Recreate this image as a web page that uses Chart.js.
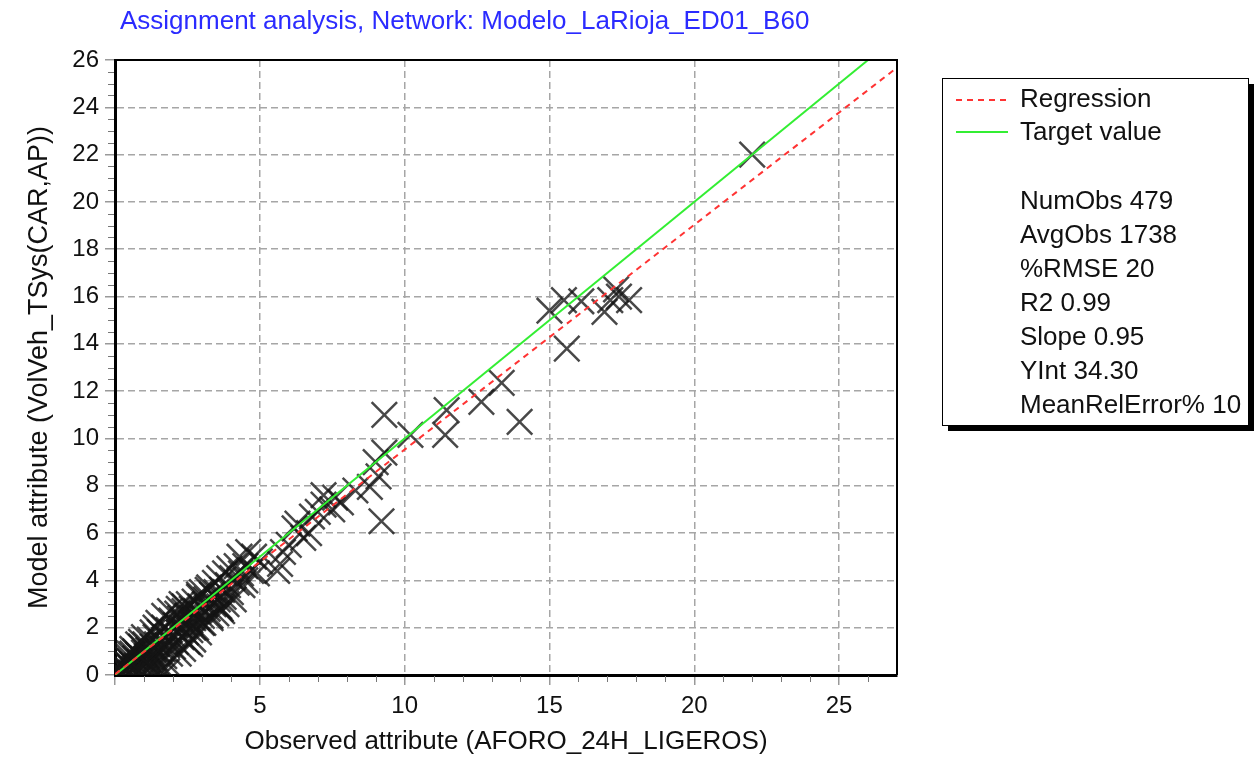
<!DOCTYPE html>
<html>
<head>
<meta charset="utf-8">
<script src="https://cdn.jsdelivr.net/npm/chart.js@4"></script>
<style>
  html, body { margin: 0; padding: 0; background: #fff; }
  #wrap { width: 1255px; height: 759px; }
</style>
</head>
<body>
<div id="wrap"><canvas id="chartAssign"></canvas></div>
<script>

const chartTitle = 'Assignment analysis, Network: Modelo_LaRioja_ED01_B60';
const xTitle = 'Observed attribute (AFORO_24H_LIGEROS)';
const yTitle = 'Model attribute (VolVeh_TSys(CAR,AP))';

// observed (x) / model (y) pairs, thousands
const obsX = [
  0.1,0.15,0.2,0.25,0.3,0.3,0.35,0.4,0.4,0.45,0.5,0.5,0.55,0.6,0.6,0.65,0.7,0.7,0.75,0.8,
  0.8,0.85,0.9,0.9,0.95,1.0,1.0,1.05,1.1,1.1,1.15,1.2,1.2,1.25,1.3,1.3,1.35,1.4,1.4,1.45,
  1.5,1.5,1.55,1.6,1.6,1.65,1.7,1.7,1.75,1.8,1.8,1.85,1.9,1.9,1.95,2.0,2.0,1.8,1.6,2.1,
  2.1,2.15,2.2,2.2,2.25,2.3,2.3,2.35,2.4,2.4,2.45,2.5,2.5,2.55,2.6,2.6,2.65,2.7,2.7,2.75,
  2.8,2.8,2.85,2.9,2.9,2.95,3.0,3.0,3.05,3.1,3.15,3.2,3.25,3.3,3.35,3.4,3.45,3.5,3.5,3.55,
  3.6,3.65,3.7,3.7,3.75,3.8,3.85,3.9,3.95,4.0,4.05,4.1,4.2,4.2,4.3,4.35,4.4,4.5,4.6,4.7,
  4.8,4.9,5.0,4.5,2.6,2.7,3.0,3.3,3.6,0.2,0.5,0.9,1.3,0.3,0.7,1.1,2.4,2.9,3.2,1.2,
  0.6,1.0,1.4,1.7,2.2,0.4,0.8,1.5,1.9,2.3,
  5.7,5.6,6.0,5.8,6.2,6.5,6.3,6.8,6.7,7.0,7.2,7.5,7.6,7.2,7.8,8.3,8.8,9.0,9.1,9.2,
  9.3,9.3,10.2,11.45,11.4,12.65,13.35,13.97,15.0,15.5,15.6,16.1,16.9,17.1,17.4,17.75,17.3,22.0
];
const obsY = [
  0.2,0.05,0.4,0.1,0.3,0.6,0.15,0.5,0.2,0.8,0.35,0.6,0.1,0.9,0.45,0.25,0.7,1.0,0.4,0.15,
  0.85,0.55,1.2,0.3,0.7,0.95,0.5,1.3,0.2,0.8,1.05,0.6,1.5,0.35,1.2,0.9,0.1,1.6,0.7,1.3,
  1.0,0.45,1.8,1.4,0.2,1.1,0.8,2.0,1.6,1.25,0.5,1.9,1.5,0.9,2.3,1.7,1.2,0.15,0.1,2.1,
  1.4,2.6,1.8,0.9,2.4,1.6,2.0,1.1,2.7,2.2,1.8,2.5,1.4,3.0,2.2,1.9,2.8,2.4,1.5,3.1,
  2.0,2.7,2.4,3.3,1.8,2.9,2.5,3.5,2.2,3.0,3.2,2.8,3.7,2.4,3.4,3.0,3.9,3.5,2.6,3.2,
  4.1,2.8,3.6,2.7,3.3,4.3,3.0,3.8,4.5,3.5,4.1,3.2,4.6,3.9,5.0,4.3,3.8,4.6,5.2,4.4,
  5.0,4.3,4.8,4.0,1.3,2.0,2.2,2.5,2.9,0.5,0.9,1.4,1.8,0.0,0.3,0.6,2.9,3.4,3.6,0.4,
  1.1,1.6,2.0,2.5,2.8,0.7,1.3,2.2,2.7,3.0,
  4.7,4.4,5.5,5.2,6.2,5.8,6.4,6.7,6.0,6.9,7.2,7.0,7.5,7.6,7.3,7.8,7.95,9.0,8.4,6.5,
  11.0,9.4,10.15,11.2,10.15,11.55,12.35,10.7,15.4,15.85,13.8,15.8,15.35,15.85,16.0,15.85,16.3,22.0
];

// regression and target lines (endpoints)
const regX = [0, 27];
const regY = [0.03, 25.68];
const targetX = [0, 26];
const targetY = [0, 26];

const yTicks = [0,2,4,6,8,10,12,14,16,18,20,22,24,26];
const xTicks = [5,10,15,20,25];

const legendLines = ['Regression', 'Target value'];
const statLines = ['NumObs 479','AvgObs 1738','%RMSE 20','R2 0.99','Slope 0.95','YInt 34.30','MeanRelError% 10'];

const FONT = '"Liberation Sans", Arial, sans-serif';

const extras = {
  id: 'extras',
  beforeDatasetsDraw(chart) {
    const ctx = chart.ctx, a = chart.chartArea;
    const xs = chart.scales.x, ys = chart.scales.y;
    ctx.save();
    // minor ticks
    ctx.strokeStyle = '#777';
    ctx.lineWidth = 1;
    ctx.beginPath();
    for (let v = 1; v < 27; v++) {
      if (v % 5 === 0) continue;
      const px = Math.round(xs.getPixelForValue(v)) + 0.5;
      ctx.moveTo(px, a.bottom + 1); ctx.lineTo(px, a.bottom + 7);
    }
    for (let v = 0.5; v < 26; v += 0.5) {
      if (v % 2 === 0) continue;
      const py = Math.round(ys.getPixelForValue(v)) + 0.5;
      ctx.moveTo(a.left - 7, py); ctx.lineTo(a.left - 1, py);
    }
    ctx.stroke();
    ctx.restore();
  },
  afterDraw(chart) {
    const ctx = chart.ctx, a = chart.chartArea;
    ctx.save();
    // top and right frame
    ctx.strokeStyle = '#000';
    ctx.lineWidth = 2;
    ctx.beginPath();
    ctx.moveTo(a.left, a.top); ctx.lineTo(a.right, a.top); ctx.lineTo(a.right, a.bottom);
    ctx.stroke();

    // title
    ctx.fillStyle = '#2b2bff';
    ctx.font = '26px ' + FONT;
    ctx.textBaseline = 'middle';
    ctx.textAlign = 'left';
    ctx.fillText(chartTitle, 120, 22);

    // legend box with shadow
    const bx = 942, by = 78, bw = 306, bh = 347;
    ctx.fillStyle = '#000';
    ctx.fillRect(bx + 6, by + 6, bw, bh);
    ctx.fillStyle = '#fff';
    ctx.fillRect(bx, by, bw, bh);
    ctx.lineWidth = 1;
    ctx.strokeStyle = '#000';
    ctx.strokeRect(bx + 0.5, by + 0.5, bw, bh);

    ctx.lineWidth = 2;
    ctx.strokeStyle = '#ff3333';
    ctx.setLineDash([6, 5]);
    ctx.beginPath(); ctx.moveTo(956, 100); ctx.lineTo(1008, 100); ctx.stroke();
    ctx.setLineDash([]);
    ctx.strokeStyle = '#33ee33';
    ctx.beginPath(); ctx.moveTo(956, 132); ctx.lineTo(1008, 132); ctx.stroke();

    ctx.fillStyle = '#111';
    ctx.font = '26px ' + FONT;
    ctx.fillText(legendLines[0], 1020, 100);
    ctx.fillText(legendLines[1], 1020, 133);
    statLines.forEach((s, i) => ctx.fillText(s, 1020, 202 + i * 34));
    ctx.restore();
  }
};

new Chart('chartAssign', {
  type: 'scatter',
  data: {
    datasets: [{
      type: 'line',
      data: regX.map((x, i) => ({x: x, y: regY[i]})),
      borderColor: '#ff3333',
      borderWidth: 2,
      borderDash: [6, 5],
      pointRadius: 0,
      order: 0
    }, {
      type: 'line',
      data: targetX.map((x, i) => ({x: x, y: targetY[i]})),
      borderColor: '#33ee33',
      borderWidth: 2,
      pointRadius: 0,
      order: 0
    }, {
      data: obsX.map((x, i) => ({x: x, y: obsY[i]})),
      pointStyle: 'crossRot',
      pointRadius: 18,
      pointBorderWidth: 2.5,
      borderColor: 'rgba(20,20,20,0.78)',
      backgroundColor: 'rgba(20,20,20,0.78)',
      order: 1
    }]
  },
  options: {
    responsive: true,
    maintainAspectRatio: false,
    animation: false,
    clip: {left: 0, top: 0, right: 0, bottom: 0},
    layout: {padding: {left: 20, top: 60, right: 358, bottom: 0}},
    plugins: {legend: {display: false}, tooltip: {enabled: false}},
    scales: {
      x: {
        type: 'linear', min: 0, max: 27,
        afterFit(s) { s.height = 84; },
        ticks: {
          stepSize: 5, includeBounds: false, padding: 7,
          color: '#111', font: {size: 24, family: FONT},
          callback: v => xTicks.includes(v) ? String(v) : ''
        },
        grid: {color: '#a6a6a6', lineWidth: 1.5, tickLength: 10, tickColor: '#999'},
        border: {color: '#000', width: 3, dash: [7, 4]},
        title: {display: true, text: xTitle, color: '#111', font: {size: 26, family: FONT}, padding: {top: 0, bottom: 2}}
      },
      y: {
        type: 'linear', min: 0, max: 26,
        afterFit(s) { s.width = 95; },
        ticks: {
          stepSize: 2, padding: 6,
          color: '#111', font: {size: 24, family: FONT},
          callback: v => yTicks.includes(v) ? String(v) : ''
        },
        grid: {color: '#a6a6a6', lineWidth: 1.5, tickLength: 10, tickColor: '#999'},
        border: {color: '#000', width: 3, dash: [7, 4]},
        title: {display: true, text: yTitle, color: '#111', font: {size: 27, family: FONT}, padding: {top: 3, bottom: 4}}
      }
    }
  },
  plugins: [extras]
});
</script>
</body>
</html>
